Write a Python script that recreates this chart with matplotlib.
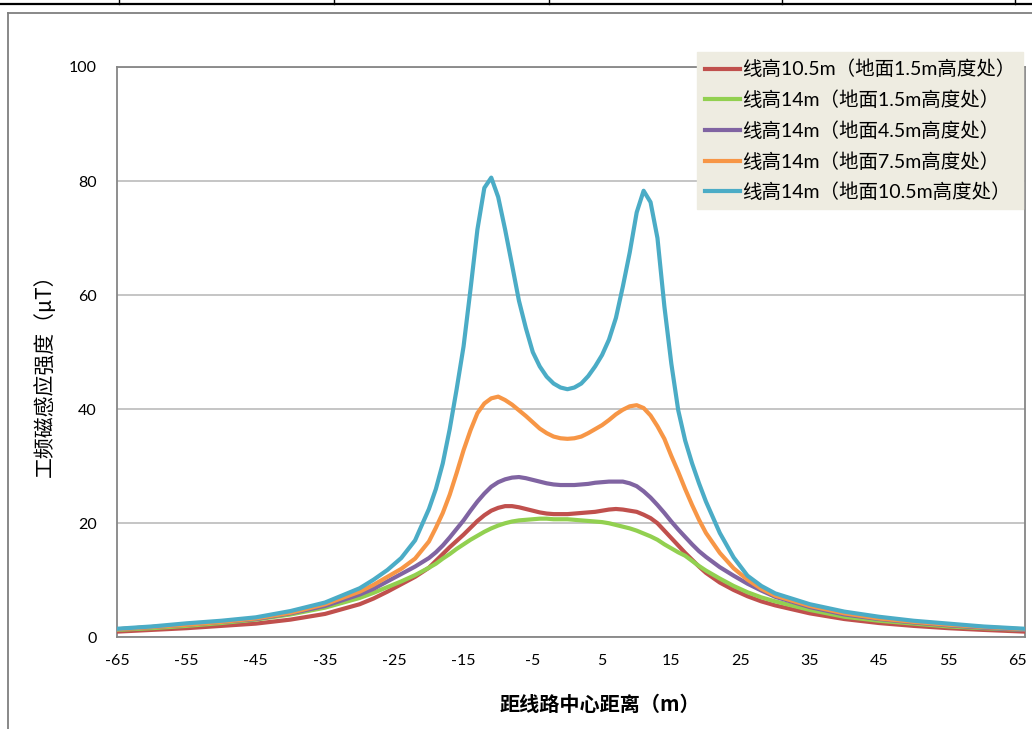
import matplotlib
matplotlib.use("Agg")
import matplotlib.pyplot as plt
from matplotlib.lines import Line2D
import numpy as np

plt.rcParams['font.family'] = ['Lato', 'Noto Sans CJK SC', 'DejaVu Sans']
plt.rcParams['axes.unicode_minus'] = False

# distance from line centre (m)
distance = [-65, -60, -55, -50, -45, -40, -35, -30, -28, -26, -24, -22,
            -20, -19, -18, -17, -16, -15, -14, -13, -12, -11, -10, -9, -8, -7, -6,
            -5, -4, -3, -2, -1, 0, 1, 2, 3, 4, 5, 6, 7, 8, 9, 10, 11, 12, 13, 14,
            15, 16, 17, 18, 19, 20,
            22, 24, 26, 28, 30, 35, 40, 45, 50, 55, 60, 66]

h105_g15 = [1.0, 1.3, 1.6, 2.0, 2.4, 3.1, 4.1, 5.8, 6.8, 8.0, 9.3, 10.6,
            12.2, 13.4, 14.6, 15.8, 16.9, 18.0, 19.2, 20.4, 21.4, 22.2, 22.7, 23.0, 23.0, 22.8, 22.5,
            22.2, 21.9, 21.7, 21.6, 21.6, 21.6, 21.7, 21.8, 21.9, 22.0, 22.2, 22.4, 22.5, 22.4, 22.2, 22.0, 21.5, 20.9, 20.0, 18.7,
            17.4, 16.1, 14.8, 13.6, 12.4, 11.3,
            9.6, 8.3, 7.2, 6.3, 5.6, 4.2, 3.2, 2.5, 2.0, 1.6, 1.3, 1.0]

h14_g15 = [1.3, 1.6, 2.0, 2.5, 3.1, 4.0, 5.2, 6.9, 7.8, 8.8, 9.8, 10.9,
           12.2, 12.9, 13.8, 14.6, 15.5, 16.3, 17.1, 17.8, 18.5, 19.1, 19.6, 20.0, 20.3, 20.5, 20.6,
           20.7, 20.8, 20.8, 20.7, 20.7, 20.7, 20.6, 20.5, 20.4, 20.3, 20.2, 20.0, 19.7, 19.4, 19.1, 18.7, 18.2, 17.7, 17.1, 16.3,
           15.6, 14.9, 14.3, 13.4, 12.5, 11.7,
           10.3, 9.0, 7.9, 7.0, 6.3, 4.8, 3.6, 2.9, 2.4, 1.9, 1.6, 1.3]

h14_g45 = [1.4, 1.8, 2.2, 2.7, 3.2, 4.2, 5.5, 7.5, 8.5, 9.8, 11.1, 12.4,
           13.9, 14.9, 16.1, 17.5, 19.0, 20.5, 22.2, 23.8, 25.2, 26.4, 27.2, 27.7, 28.0, 28.1, 27.9,
           27.6, 27.3, 27.0, 26.8, 26.7, 26.7, 26.7, 26.8, 26.9, 27.1, 27.2, 27.3, 27.3, 27.3, 27.0, 26.5, 25.6, 24.5, 23.2, 21.8,
           20.3, 18.9, 17.6, 16.3, 15.1, 14.1,
           12.3, 10.8, 9.4, 8.2, 7.1, 5.3, 4.0, 3.2, 2.6, 2.1, 1.7, 1.3]

h14_g75 = [1.4, 1.8, 2.2, 2.7, 3.3, 4.3, 5.8, 8.0, 9.2, 10.6, 12.0, 13.8,
           16.8, 19.2, 21.8, 25.0, 28.8, 32.8, 36.3, 39.3, 41.0, 41.9, 42.2, 41.6, 40.8, 39.8, 38.8,
           37.7, 36.6, 35.8, 35.2, 34.9, 34.8, 34.9, 35.2, 35.8, 36.5, 37.2, 38.1, 39.1, 39.9, 40.5, 40.7, 40.2, 38.9, 37.0, 34.8,
           31.8, 29.0, 26.0, 23.2, 20.6, 18.3,
           14.8, 12.1, 10.1, 8.5, 7.3, 5.5, 4.2, 3.3, 2.7, 2.2, 1.8, 1.4]

h14_g105 = [1.5, 1.9, 2.45, 2.9, 3.5, 4.6, 6.1, 8.6, 10.1, 11.8, 13.9, 17.0,
            22.5, 26.0, 30.5, 36.5, 43.5, 51.0, 61.0, 71.5, 78.8, 80.6, 77.2, 71.5, 65.3, 59.0, 54.2,
            50.0, 47.5, 45.7, 44.5, 43.8, 43.5, 43.8, 44.5, 45.8, 47.5, 49.5, 52.2, 56.0, 61.5, 67.5, 74.5, 78.3, 76.3, 70.0, 58.0,
            48.0, 39.8, 34.5, 30.5, 27.0, 23.8,
            18.3, 14.0, 10.8, 9.0, 7.7, 5.8, 4.5, 3.6, 2.9, 2.4, 1.9, 1.5]

labels = ["线高10.5m（地面1.5m高度处）",
          "线高14m（地面1.5m高度处）",
          "线高14m（地面4.5m高度处）",
          "线高14m（地面7.5m高度处）",
          "线高14m（地面10.5m高度处）"]
series = [h105_g15, h14_g15, h14_g45, h14_g75, h14_g105]
colors = ["#C0504D", "#92D050", "#8064A2", "#F79646", "#4BACC6"]

xticks = list(range(-65, 66, 10))
xgrid = list(range(-45, 56, 20))
yticks = [0, 20, 40, 60, 80, 100]

W, H = 1032, 729
fig = plt.figure(figsize=(W / 100, H / 100), dpi=100)
ax = fig.add_axes([117.3 / W, 1 - 637.3 / H, (1024.5 - 117.3) / W, (637.3 - 67) / H])

for vals, lab, col in zip(series, labels, colors):
    ax.plot(distance, vals, color=col, lw=3.0, label=lab, solid_joinstyle='round', zorder=3)

ax.set_xlim(-65, 66)
ax.set_ylim(0, 100)
ax.set_xticks(xticks)
ax.set_xticks(xgrid, minor=True)
ax.set_yticks(yticks)
ax.tick_params(axis='both', which='both', length=0, labelsize=11.5, colors='black')
ax.tick_params(axis='y', pad=15)
ax.tick_params(axis='x', pad=12)
ax.grid(False)
ax.xaxis.grid(True, which='minor', color='#C0C0C0', lw=1.3)
ax.yaxis.grid(True, which='major', color='#C0C0C0', lw=1.3)
ax.set_axisbelow(True)
for s in ax.spines.values():
    s.set_color('#868686')
    s.set_linewidth(1.3)

fig.text(600 / W, 1 - 704 / H, "距线路中心距离（m）", ha='center', va='center',
         fontsize=14.5, fontweight='bold', family=['Noto Sans CJK SC', 'DejaVu Sans'])
fig.text(45 / W, 1 - 370 / H, "工频磁感应强度（μT）", ha='center', va='center', rotation=90,
         fontsize=15, family=['Noto Sans CJK SC', 'DejaVu Sans'])

leg = fig.legend(loc='upper left', bbox_to_anchor=(697 / W, 1 - 52 / H), bbox_transform=fig.transFigure,
                 fontsize=14, frameon=True, fancybox=False, handlelength=1.8, handletextpad=0.12,
                 labelspacing=0.62, borderpad=0.4, borderaxespad=0)
leg.get_frame().set_facecolor('#EEECE1')
leg.get_frame().set_edgecolor('#EEECE1')
leg.get_frame().set_alpha(1)
for t in leg.get_texts():
    t.set_family(['Lato', 'Noto Sans CJK SC', 'DejaVu Sans'])

# chart frame and page table lines
def fline(xs, ys, **kw):
    fig.add_artist(Line2D([x / W for x in xs], [1 - y / H for y in ys],
                          transform=fig.transFigure, **kw))

fline([8, 1040], [12.5, 12.5], color='#7F7F7F', lw=1.3)
fline([8, 8], [12.5, 740], color='#7F7F7F', lw=1.3)
fline([0, W], [4, 4], color='black', lw=1.6)
for xv in [119, 334, 549, 782, 1015]:
    fline([xv, xv], [0, 4], color='black', lw=1.0)

fig.savefig("out.png", dpi=100)
